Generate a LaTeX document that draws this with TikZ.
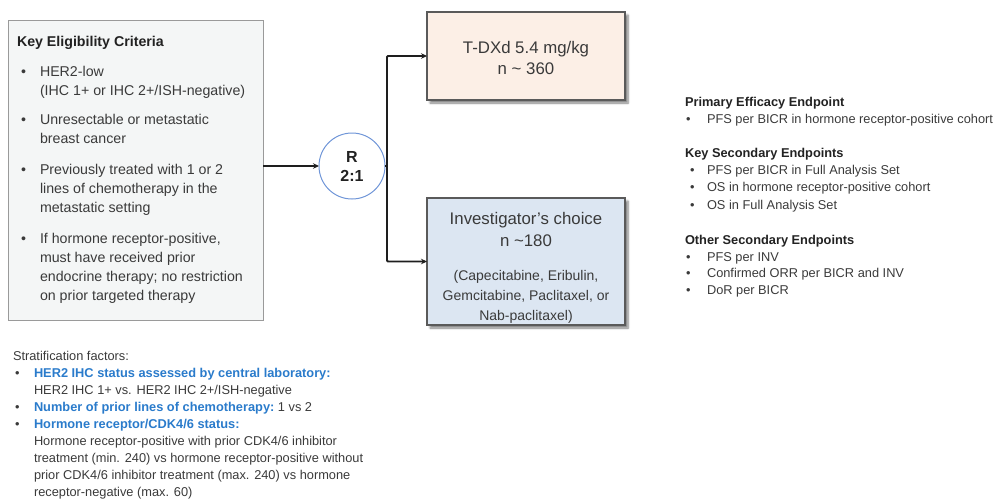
\documentclass[tikz,border=0pt]{standalone}
\usepackage{fontspec}
\setmainfont{Liberation Sans}
\usetikzlibrary{arrows.meta,shadows.blur}
\definecolor{txt}{HTML}{3A3A3A}
\definecolor{ttl}{HTML}{222222}
\definecolor{eligfill}{HTML}{F4F6F6}
\definecolor{eligdraw}{HTML}{9A9A9A}
\definecolor{armA}{HTML}{FCEFE6}
\definecolor{armB}{HTML}{DCE6F2}
\definecolor{armdraw}{HTML}{5A5A5A}
\definecolor{rblue}{HTML}{7096D8}
\definecolor{sblue}{HTML}{2A7BCB}
\definecolor{conn}{HTML}{1E1E1E}
\begin{document}
\begin{tikzpicture}[x=1pt,y=-1pt,
  every node/.style={inner sep=0pt,outer sep=0pt},
  eltxt/.style={anchor=base west,text=txt,font=\fontsize{14.2}{17}\selectfont},
  elttl/.style={anchor=base west,text=ttl,font=\fontsize{14.2}{17}\selectfont\bfseries},
  rtxt/.style={anchor=base west,text=txt,font=\fontsize{12.8}{15}\selectfont},
  rttl/.style={anchor=base west,text=ttl,font=\fontsize{12.8}{15}\selectfont\bfseries},
  stxt/.style={anchor=base west,text=txt,font=\fontsize{12.8}{15}\selectfont},
  sblu/.style={anchor=base west,text=sblue,font=\fontsize{12.8}{15}\selectfont\bfseries},
  armbox/.style={draw=armdraw,line width=1.6pt,minimum width=198pt,
     blur shadow={shadow xshift=3pt,shadow yshift=-3pt,shadow blur steps=6,shadow opacity=50}},
  armtxt/.style={text=txt,align=center},
  conline/.style={draw=conn,line width=1.8pt},
  tip/.style={-{Stealth[length=6pt,width=5.5pt]}}
]
\useasboundingbox (0,0) rectangle (995,499);

% eligibility box
\node[draw=eligdraw,fill=eligfill,line width=0.9pt,minimum width=255pt,minimum height=300pt,anchor=north west] (elig) at (8,20) {};
\node[elttl] (et) at (17,46.5) {Key Eligibility Criteria};
\node[eltxt] (b1) at (21,76.7) {•};
\node[eltxt] (e1) at (40,76.7) {HER2-low};
\node[eltxt] (e2) at (40,95.7) {(IHC 1+ or IHC 2+/ISH-negative)};
\node[eltxt] (b2) at (21,124.7) {•};
\node[eltxt] (e3) at (40,124.7) {Unresectable or metastatic};
\node[eltxt] (e4) at (40,143.7) {breast cancer};
\node[eltxt] (b3) at (21,174.7) {•};
\node[eltxt] (e5) at (40,174.7) {Previously treated with 1 or 2};
\node[eltxt] (e6) at (40,193.7) {lines of chemotherapy in the};
\node[eltxt] (e7) at (40,212.7) {metastatic setting};
\node[eltxt] (b4) at (21,243.7) {•};
\node[eltxt] (e8) at (40,243.7) {If hormone receptor-positive,};
\node[eltxt] (e9) at (40,262.7) {must have received prior};
\node[eltxt] (e10) at (40,281.7) {endocrine therapy; no restriction};
\node[eltxt] (e11) at (40,300.7) {on prior targeted therapy};

% randomisation
\node[circle,draw=rblue,fill=white,line width=1pt,minimum size=66pt,align=center,
  font=\fontsize{16}{19}\selectfont\bfseries,text=ttl] (R) at (352,166) {R\\2:1};

% arms
\node[armbox,fill=armA,minimum height=88pt,anchor=north west] (armA) at (427,12) {};
\node[armtxt,font=\fontsize{16.8}{21}\selectfont] (ta) at (526,58) {T-DXd 5.4 mg/kg\\n \textasciitilde{} 360};
\node[armbox,fill=armB,minimum height=127pt,anchor=north west] (armB) at (427,198) {};
\node[armtxt,font=\fontsize{16.8}{22}\selectfont,anchor=base] (tb1) at (526,224) {Investigator’s choice};
\node[armtxt,font=\fontsize{16.8}{22}\selectfont,anchor=base] (tb2) at (526,246) {n \textasciitilde180};
\node[armtxt,font=\fontsize{14}{20}\selectfont,anchor=base] (tb3) at (526,280) {(Capecitabine, Eribulin,};
\node[armtxt,font=\fontsize{14}{20}\selectfont,anchor=base] (tb4) at (526,300) {Gemcitabine, Paclitaxel, or};
\node[armtxt,font=\fontsize{14}{20}\selectfont,anchor=base] (tb5) at (526,320) {Nab-paclitaxel)};

% connectors
\coordinate (split) at (387,166);
\draw[conline,tip] (R.west -| elig.east) -- (R.west);
\draw[conline] (R.east) -- (split);
\draw[conline,tip,rounded corners=1pt] (split) |- (armA.west);
\draw[conline,tip,rounded corners=1pt] (split) |- (armB.west);

% endpoints
\node[rttl] (p0) at (685,106.5) {Primary Efficacy Endpoint};
\node[rtxt] (pb1) at (686,123.2) {•};
\node[rtxt] (p1) at (707,123.2) {PFS per BICR in hormone receptor-positive cohort};
\node[rttl] (k0) at (685,157.5) {Key Secondary Endpoints};
\node[rtxt] (kb1) at (690,174.2) {•};
\node[rtxt] (k1) at (707,174.2) {PFS per BICR in Full Analysis Set};
\node[rtxt] (kb2) at (690,191.2) {•};
\node[rtxt] (k2) at (707,191.2) {OS in hormone receptor-positive cohort};
\node[rtxt] (kb3) at (690,209.2) {•};
\node[rtxt] (k3) at (707,209.2) {OS in Full Analysis Set};
\node[rttl] (o0) at (685,244.5) {Other Secondary Endpoints};
\node[rtxt] (ob1) at (686,261.2) {•};
\node[rtxt] (o1) at (707,261.2) {PFS per INV};
\node[rtxt] (ob2) at (686,277.2) {•};
\node[rtxt] (o2) at (707,277.2) {Confirmed ORR per BICR and INV};
\node[rtxt] (ob3) at (686,294.2) {•};
\node[rtxt] (o3) at (707,294.2) {DoR per BICR};

% stratification
\node[stxt] (s0) at (13,360.2) {Stratification factors:};
\node[stxt] (sb1) at (15,377.2) {•};
\node[sblu] (s1) at (34,377.2) {HER2 IHC status assessed by central laboratory:};
\node[stxt] (s2) at (34,394.2) {HER2 IHC 1+ vs. HER2 IHC 2+/ISH-negative};
\node[stxt] (sb2) at (15,411.2) {•};
\node[sblu] (s3) at (34,411.2) {Number of prior lines of chemotherapy:};
\node[stxt,anchor=base west] (s3b) at (s3.base east) {\ 1 vs 2};
\node[stxt] (sb3) at (15,428.2) {•};
\node[sblu] (s4) at (34,428.2) {Hormone receptor/CDK4/6 status:};
\node[stxt] (s5) at (34,445.2) {Hormone receptor-positive with prior CDK4/6 inhibitor};
\node[stxt] (s6) at (34,462.2) {treatment (min. 240) vs hormone receptor-positive without};
\node[stxt] (s7) at (34,479.2) {prior CDK4/6 inhibitor treatment (max. 240) vs hormone};
\node[stxt] (s8) at (34,496.2) {receptor-negative (max. 60)};
\end{tikzpicture}
\end{document}
